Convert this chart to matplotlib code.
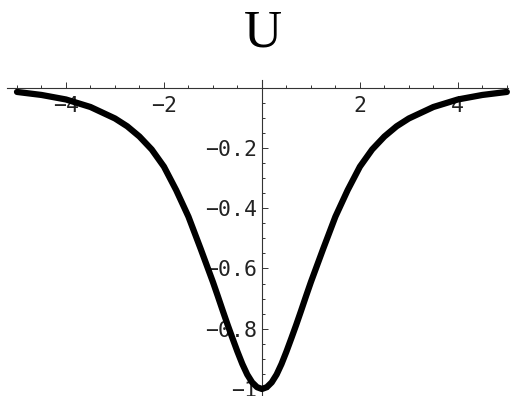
import matplotlib
matplotlib.use('Agg')
import matplotlib.pyplot as plt
from matplotlib.ticker import FixedLocator, FixedFormatter, MultipleLocator

# values (right half; the curve is symmetric about x=0)
x_half = [0, 0.1, 0.2, 0.3, 0.4, 0.5, 0.6, 0.7, 0.8, 0.9, 1.0, 1.25, 1.5, 1.75,
          2.0, 2.25, 2.5, 2.75, 3.0, 3.5, 4.0, 4.5, 5.0]
U_half = [-1.0, -0.994, -0.978, -0.952, -0.917, -0.876, -0.832, -0.787, -0.74, -0.692, -0.645,
          -0.535, -0.428, -0.34, -0.262, -0.205, -0.162, -0.128, -0.102, -0.064, -0.039, -0.024, -0.014]
xticks = [-4, -2, 2, 4]
xticklabels = ['\u22124', '\u22122', '2', '4']
yticks = [-0.2, -0.4, -0.6, -0.8, -1]
yticklabels = ['\u22120.2', '\u22120.4', '\u22120.6', '\u22120.8', '\u22121']

xs = [-v for v in x_half[::-1]] + x_half[1:]
U = U_half[::-1] + U_half[1:]

fig = plt.figure(figsize=(5.14, 3.96), dpi=100)
ax = fig.add_axes([0.014, 0.0025, 0.974, 0.795])

ax.plot(xs, U, color='black', lw=4.5, solid_capstyle='round', solid_joinstyle='round',
        zorder=3, clip_on=False)

ax.set_xlim(-5.2, 5.02)
ax.set_ylim(-1.02, 0.025)

ax.spines['left'].set_position(('data', 0))
ax.spines['bottom'].set_position(('data', 0))
ax.spines['top'].set_visible(False)
ax.spines['right'].set_visible(False)
for s in ['left', 'bottom']:
    ax.spines[s].set_color('#333333')
    ax.spines[s].set_linewidth(0.8)

ax.xaxis.set_major_locator(FixedLocator(xticks))
ax.xaxis.set_major_formatter(FixedFormatter(xticklabels))
ax.xaxis.set_minor_locator(MultipleLocator(0.5))
ax.yaxis.set_major_locator(FixedLocator(yticks))
ax.yaxis.set_major_formatter(FixedFormatter(yticklabels))
ax.yaxis.set_minor_locator(MultipleLocator(0.05))

ax.tick_params(which='both', direction='in', color='#333333', width=0.7)
ax.tick_params(which='major', length=4)
ax.tick_params(which='minor', length=2.5)
ax.tick_params(axis='x', which='major', pad=6)
ax.tick_params(axis='y', which='major', pad=3.5)
for lab in ax.get_xticklabels() + ax.get_yticklabels():
    lab.set_fontfamily('DejaVu Sans Mono')
    lab.set_fontsize(15.5)
    lab.set_color('#222222')

fig.text(263 / 514, 1 - 46.7 / 396, 'U', ha='center', va='baseline',
         fontsize=38, family='Liberation Serif')

fig.savefig('out.png', dpi=100)
